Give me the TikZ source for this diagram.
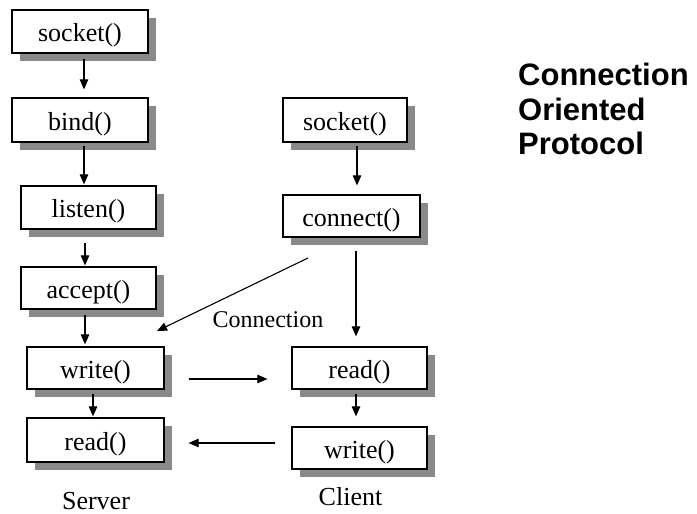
\documentclass[tikz,border=0pt]{standalone}
\usepackage{fontspec}
\setmainfont{Liberation Serif}
\newfontfamily\titlefont{Liberation Sans}
\usetikzlibrary{arrows.meta,shadows}
\definecolor{shadowgray}{RGB}{138,138,138}
\tikzset{
  callbox/.style={draw=black, line width=1.2pt, fill=white, inner sep=0pt,
    font=\fontsize{26}{30}\selectfont, text height=22pt, text depth=2pt,
    drop shadow={shadow xshift=8pt, shadow yshift=-8pt, fill=shadowgray, opacity=1}},
  flow/.style={line width=1.1pt, -{Triangle[length=10pt,width=8.5pt]}},
  caption/.style={inner sep=0pt, anchor=base, text depth=0pt, font=\fontsize{26}{30}\selectfont}
}
\begin{document}
\begin{tikzpicture}[x=1pt,y=-1pt]
\useasboundingbox (0,0) rectangle (697,514);

% server side calls
\node[callbox, minimum width=136pt, minimum height=43pt] (S1) at (80,31.5) {socket()};
\node[callbox, minimum width=136pt, minimum height=44pt] (S2) at (80,120) {bind()};
\node[callbox, minimum width=135pt, minimum height=43pt] (S3) at (88.5,207.5) {listen()};
\node[callbox, minimum width=135pt, minimum height=42pt] (S4) at (88.5,288) {accept()};
\node[callbox, minimum width=137pt, minimum height=42pt] (S5) at (95.5,368) {write()};
\node[callbox, minimum width=137pt, minimum height=44pt] (S6) at (95.5,440) {read()};

% client side calls
\node[callbox, minimum width=124pt, minimum height=44pt] (C1) at (345,120) {socket()};
\node[callbox, minimum width=137pt, minimum height=42pt] (C2) at (351.5,216) {connect()};
\node[callbox, minimum width=135pt, minimum height=42pt] (C3) at (359.5,368) {read()};
\node[callbox, minimum width=135pt, minimum height=42pt] (C4) at (359.5,448) {write()};

% server flow
\draw[flow] ([shift={(4,5)}]S1.south) -- ([shift={(4,-8)}]S1.south |- S2.north);
\draw[flow] ([shift={(4,3)}]S2.south) -- ([shift={(4,-1)}]S2.south |- S3.north);
\draw[flow] ([shift={(-3.5,13)}]S3.south) -- ([shift={(-3.5,-1)}]S3.south |- S4.north);
\draw[flow] ([shift={(-3.5,5)}]S4.south) -- ([shift={(-3.5,-2)}]S4.south |- S5.north);
\draw[flow] ([shift={(-2.5,4)}]S5.south) -- ([shift={(-2.5,-1)}]S5.south |- S6.north);

% client flow
\draw[flow] ([shift={(12,3)}]C1.south) -- ([shift={(12,-9)}]C1.south |- C2.north);
\draw[flow] ([shift={(4.5,13)}]C2.south) -- ([shift={(4.5,-10)}]C2.south |- C3.north);
\draw[flow] ([shift={(-3.5,4)}]C3.south) -- ([shift={(-3.5,-10)}]C3.south |- C4.north);

% exchanges between the two sides
\draw[flow] ([shift={(-43.5,42)}]C2.center) -- ([shift={(61.5,-37)}]S5.center);
\draw[flow] ([shift={(24,11)}]S5.east) -- ([shift={(-24,11)}]S5.east -| C3.west);
\draw[flow] ([shift={(-16,-5)}]C4.west) -- ([shift={(24,-5)}]C4.west -| S6.east);

% labels
\node[caption, font=\fontsize{24}{28}\selectfont] (conn) at (268,327) {Connection};
\node[caption] (server) at (96,509) {Server};
\node[caption] (client) at (350.5,505) {Client};
\node[inner sep=0pt, anchor=north west, align=left,
      font=\titlefont\bfseries\fontsize{31}{34.5}\selectfont] (title) at (518,63)
  {Connection\\Oriented\\Protocol};
\end{tikzpicture}
\end{document}
